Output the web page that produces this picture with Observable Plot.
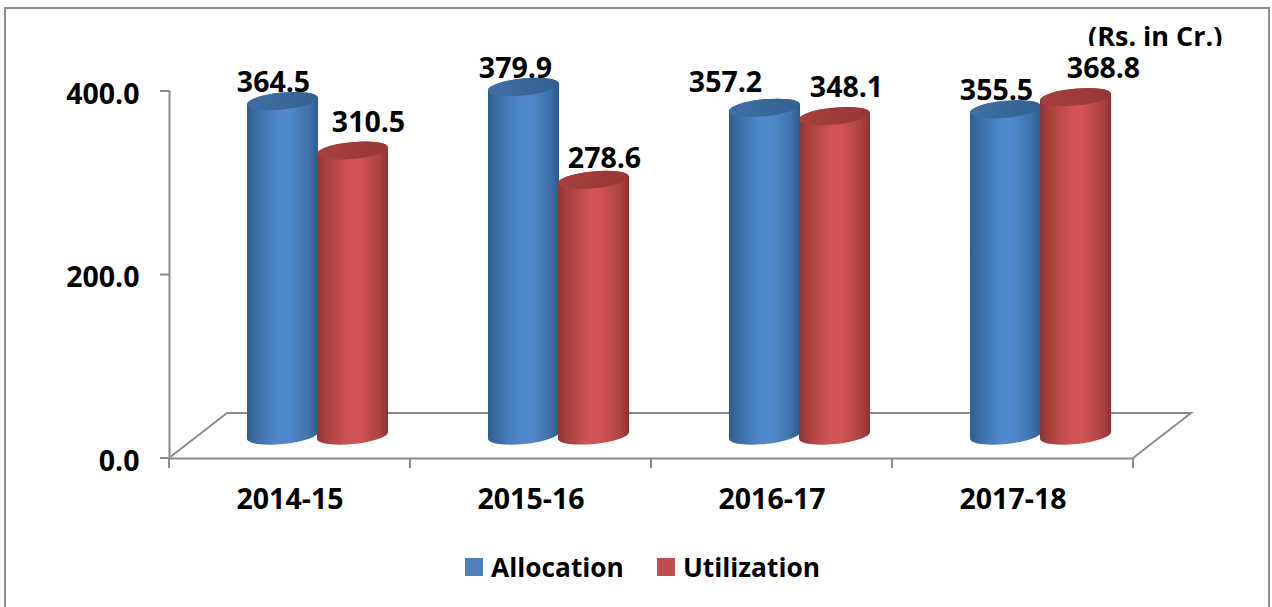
<!DOCTYPE html>
<html>
<head>
<meta charset="utf-8">
<script src="https://cdn.jsdelivr.net/npm/d3@7"></script>
<script src="https://cdn.jsdelivr.net/npm/@observablehq/plot@0.6"></script>
<style>
  html, body { margin: 0; padding: 0; background: #fff; overflow: hidden; }
  #page { position: relative; width: 1272px; height: 607px; overflow: hidden; font-family: "Open Sans", sans-serif; font-weight: 700; color: #000; }
  #border { position: absolute; left: 4px; top: 7px; width: 1262px; height: 700px; border: 2px solid #8c8c8c; }
  #chart { position: absolute; left: 0; top: 0; }
  #unit { position: absolute; left: 1088px; top: 18px; height: 28px; overflow: hidden; font-size: 27px; line-height: 36px; white-space: nowrap; }
  #legend { position: absolute; left: 465px; top: 550px; display: flex; align-items: center; font-size: 26.3px; line-height: 34px; }
  #legend i { display: inline-block; width: 18px; height: 18px; margin-right: 8px; }
  #legend span { margin-right: 33px; }
</style>
</head>
<body>
<div id="page">
  <div id="border"></div>
  <div id="chart"></div>
  <div id="unit"></div>
  <div id="legend"></div>
</div>
<script>
const years = ["2014-15", "2015-16", "2016-17", "2017-18"];
const allocation = [364.5, 379.9, 357.2, 355.5];
const utilization = [310.5, 278.6, 348.1, 368.8];
const yTicks = [0, 200, 400];
const unitLabel = "(Rs. in Cr.)";
const seriesNames = ["Allocation", "Utilization"];

const rows = years.map((year, i) => ({year, Allocation: allocation[i], Utilization: utilization[i]}));

// manual label nudges, as placed in the source chart
const nudges = {
  Allocation: [[-16.5, -41], [-15.5, -41], [-46.5, -48], [-16.5, -41]],
  Utilization: [[78.5, -51], [73.5, -44], [74.5, -51], [90.5, -51]]
};

const gray = "#8c8c8c";
const depth = {dx: 58, dy: -45};     // floor depth
const lift = -22.5;                  // cylinders stand mid-way on the floor
const tilt = -5.5, rx = 35.7, ry = 8.5;

const ns = "http://www.w3.org/2000/svg";
const el = (name, attrs) => {
  const e = document.createElementNS(ns, name);
  for (const k in attrs) e.setAttribute(k, attrs[k]);
  return e;
};

function gradient(id, stops) {
  const g = el("linearGradient", {id, x1: 0, x2: 1, y1: 0, y2: 0});
  stops.forEach(([o, c]) => g.appendChild(el("stop", {offset: o, "stop-color": c})));
  return g;
}

function defs() {
  const d = el("defs", {});
  d.appendChild(gradient("blueBody", [[0, "#2f5d8e"], [0.12, "#3c6ca3"], [0.45, "#5089cb"], [0.6, "#5089cb"], [0.88, "#3f70a8"], [1, "#2d5a8a"]]));
  d.appendChild(gradient("redBody", [[0, "#8e3432"], [0.12, "#a83f3d"], [0.45, "#d15352"], [0.6, "#d15352"], [0.88, "#ad4240"], [1, "#8a3331"]]));
  d.appendChild(gradient("blueCap", [[0, "#406fa5"], [1, "#33628f"]]));
  d.appendChild(gradient("redCap", [[0, "#a8403f"], [1, "#963836"]]));
  return d;
}

// floor outline and tick marks, all taken from the scales
function floor(index, {x, y}, values, dims) {
  const L = dims.marginLeft, R = dims.width - dims.marginRight, B = y(0);
  const edges = [...years.map(d => x(d)), R];
  const p = d3.path();
  p.moveTo(L, B); p.lineTo(L + depth.dx, B + depth.dy); p.lineTo(R + depth.dx, B + depth.dy); p.lineTo(R, B);
  for (const e of edges) { p.moveTo(e, B); p.lineTo(e, B + 10); }
  for (const t of yTicks) { p.moveTo(L, y(t)); p.lineTo(L - 9, y(t)); }
  return el("path", {d: p.toString(), fill: "none", stroke: gray, "stroke-width": 2});
}

function cylinders(name, insetLeft, insetRight, bodyId, capId) {
  return Plot.barY(rows, {
    x: "year", y: name, fill: `url(#${bodyId})`, insetLeft, insetRight, dy: lift, title: d => `${d.year} ${name}: ${d[name]}`,
    render(index, scales, values, dimensions, context, next) {
      const g = next(index, scales, values, dimensions, context);
      const a = rx * Math.cos(tilt * Math.PI / 180), s = -rx * Math.sin(tilt * Math.PI / 180);
      g.querySelectorAll("rect").forEach(r => {
        const w = +r.getAttribute("width"), xx = +r.getAttribute("x");
        const top = +r.getAttribute("y"), bot = top + +r.getAttribute("height");
        const cx = xx + w / 2;
        const body = el("path", {
          d: `M${cx - a},${top + s}A${rx},${ry} ${tilt} 0 1 ${cx + a},${top - s}L${cx + a},${bot - s}A${rx},${ry} ${tilt} 0 1 ${cx - a},${bot + s}Z`,
          fill: `url(#${bodyId})`
        });
        const cap = el("ellipse", {cx, cy: top, rx, ry, transform: `rotate(${tilt} ${cx} ${top})`, fill: `url(#${capId})`});
        for (const c of [...r.childNodes]) body.appendChild(c);
        r.replaceWith(body, cap);
      });
      return g;
    }
  });
}

const labelMarks = seriesNames.flatMap(name => rows.map((d, i) =>
  Plot.text([d], {
    x: "year", y: name, text: v => v[name].toFixed(1),
    dx: nudges[name][i][0], dy: nudges[name][i][1], fill: "#000", lineAnchor: "middle"
  })
));

const chart = Plot.plot({
  width: 1272, height: 607,
  marginLeft: 169, marginRight: 139, marginTop: 91, marginBottom: 149,
  style: {fontFamily: "'Open Sans', sans-serif", fontWeight: 700, fontSize: "28.5px", background: "transparent", color: "#000", overflow: "visible"},
  x: {type: "band", domain: years, padding: 0, round: false, label: null},
  y: {domain: [0, 400], label: null},
  marks: [
    defs,
    floor,
    Plot.frame({anchor: "left", stroke: gray, strokeWidth: 2}),
    Plot.frame({anchor: "bottom", stroke: gray, strokeWidth: 2}),
    Plot.axisY(yTicks, {tickSize: 0, tickPadding: 30, dy: 3, tickFormat: d => d.toFixed(1), label: null, fill: "#000", fontVariant: "normal"}),
    Plot.axisX({tickSize: 0, tickPadding: 30, label: null, fill: "#000", fontVariant: "normal"}),
    cylinders("Allocation", 78, 92, "blueBody", "blueCap"),
    cylinders("Utilization", 148, 22, "redBody", "redCap"),
    ...labelMarks
  ]
});
document.getElementById("chart").appendChild(chart);

document.getElementById("unit").textContent = unitLabel;
const swatch = {Allocation: "#4f81bd", Utilization: "#c0504d"};
document.getElementById("legend").innerHTML = seriesNames
  .map(n => `<i style="background:${swatch[n]}"></i><span>${n}</span>`).join("");
</script>
</body>
</html>
